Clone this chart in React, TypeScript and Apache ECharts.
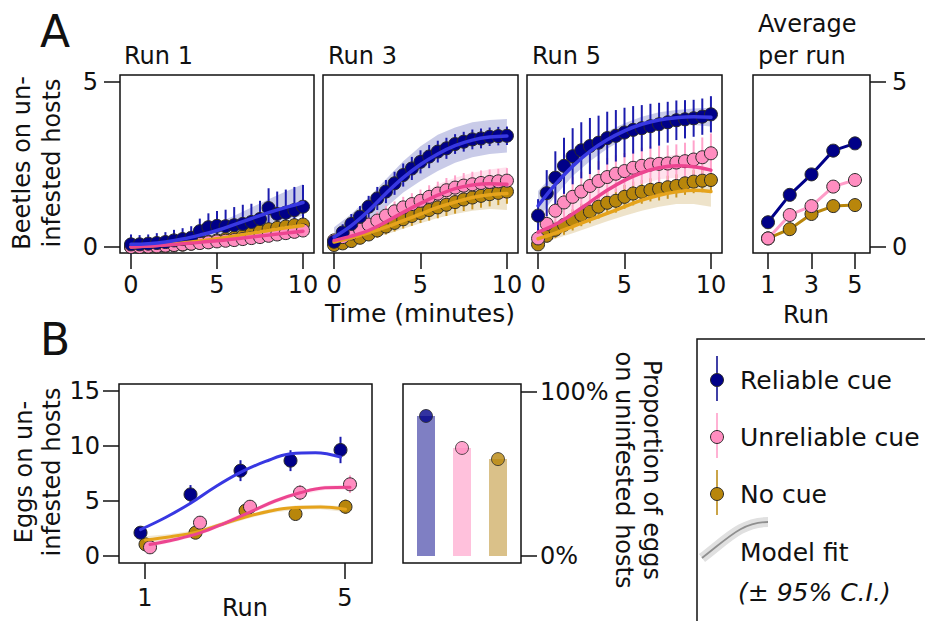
import React, { useEffect, useRef } from "react";
import * as echarts from "echarts";

// ---------- Panel A: beetles on uninfested hosts over time ----------
const timePoints = [0, 0.5, 1, 1.5, 2, 2.5, 3, 3.5, 4, 4.5, 5, 5.5, 6, 6.5, 7, 7.5, 8, 8.5, 9, 9.5, 10];
const fitTimes = [0, 1, 2, 3, 4, 5, 6, 7, 8, 9, 10];
const timeTicks = [0, 5, 10];
const beetleTicks = [0, 5];

// Run 1
const run1Reliable = [0.08, 0.08, 0.1, 0.12, 0.15, 0.2, 0.24, 0.28, 0.48, 0.6, 0.64, 0.63, 0.66, 0.7, 0.76, 0.85, 1.18, 1.0, 1.04, 1.12, 1.22];
const run1ReliableErr = [0.3, 0.28, 0.28, 0.3, 0.3, 0.32, 0.33, 0.35, 0.38, 0.42, 0.45, 0.5, 0.55, 0.58, 0.55, 0.55, 0.6, 0.68, 0.7, 0.7, 0.66];
const run1Unreliable = [0, 0, 0.01, 0.02, 0.04, 0.06, 0.08, 0.1, 0.12, 0.14, 0.17, 0.19, 0.21, 0.24, 0.27, 0.3, 0.34, 0.38, 0.42, 0.46, 0.5];
const run1UnreliableErr = [0.04, 0.04, 0.05, 0.05, 0.06, 0.07, 0.08, 0.08, 0.09, 0.1, 0.1, 0.11, 0.11, 0.12, 0.12, 0.13, 0.13, 0.14, 0.14, 0.15, 0.15];
const run1NoCue = [0, 0, 0, 0.01, 0.03, 0.05, 0.07, 0.1, 0.13, 0.16, 0.2, 0.24, 0.28, 0.33, 0.42, 0.48, 0.54, 0.58, 0.62, 0.66, 0.68];
const run1NoCueErr = [0.04, 0.04, 0.05, 0.06, 0.07, 0.08, 0.09, 0.1, 0.1, 0.11, 0.12, 0.12, 0.13, 0.14, 0.14, 0.15, 0.15, 0.16, 0.16, 0.17, 0.17];
const run1ReliableFit = [0.08, 0.1, 0.15, 0.24, 0.36, 0.5, 0.68, 0.86, 1.04, 1.2, 1.35];
const run1ReliableLo = [0.02, 0.04, 0.07, 0.12, 0.2, 0.3, 0.42, 0.55, 0.68, 0.82, 0.95];
const run1ReliableHi = [0.15, 0.18, 0.25, 0.36, 0.52, 0.72, 0.95, 1.2, 1.45, 1.68, 1.9];
const run1UnreliableFit = [0, 0.03, 0.06, 0.1, 0.14, 0.19, 0.24, 0.3, 0.36, 0.42, 0.48];
const run1UnreliableLo = [-0.03, 0, 0.02, 0.05, 0.08, 0.12, 0.16, 0.2, 0.25, 0.3, 0.34];
const run1UnreliableHi = [0.03, 0.06, 0.1, 0.15, 0.2, 0.26, 0.32, 0.4, 0.47, 0.54, 0.62];
const run1NoCueFit = [0, 0.03, 0.07, 0.12, 0.18, 0.25, 0.33, 0.42, 0.5, 0.58, 0.65];
const run1NoCueLo = [-0.03, 0, 0.03, 0.07, 0.12, 0.17, 0.23, 0.3, 0.36, 0.42, 0.47];
const run1NoCueHi = [0.03, 0.06, 0.11, 0.17, 0.24, 0.33, 0.43, 0.54, 0.64, 0.74, 0.83];

// Run 3
const run3Reliable = [0.16, 0.44, 0.7, 0.92, 1.22, 1.47, 1.68, 1.93, 2.18, 2.38, 2.58, 2.74, 2.89, 2.99, 3.12, 3.19, 3.26, 3.29, 3.34, 3.36, 3.37];
const run3ReliableErr = [0.2, 0.25, 0.3, 0.32, 0.33, 0.35, 0.35, 0.35, 0.35, 0.35, 0.35, 0.35, 0.33, 0.32, 0.3, 0.3, 0.3, 0.3, 0.28, 0.28, 0.28];
const run3Unreliable = [0.2, 0.3, 0.41, 0.53, 0.68, 0.8, 0.95, 1.08, 1.2, 1.3, 1.4, 1.52, 1.62, 1.72, 1.8, 1.86, 1.9, 1.94, 1.97, 1.99, 2.01];
const run3UnreliableErr = [0.1, 0.15, 0.2, 0.22, 0.25, 0.27, 0.3, 0.3, 0.32, 0.33, 0.34, 0.35, 0.36, 0.37, 0.37, 0.38, 0.38, 0.38, 0.38, 0.38, 0.38];
const run3NoCue = [0.06, 0.11, 0.18, 0.28, 0.38, 0.5, 0.62, 0.73, 0.84, 0.94, 1.03, 1.12, 1.2, 1.28, 1.36, 1.44, 1.5, 1.55, 1.6, 1.64, 1.68];
const run3NoCueErr = [0.1, 0.12, 0.15, 0.18, 0.2, 0.22, 0.24, 0.26, 0.28, 0.3, 0.3, 0.32, 0.33, 0.34, 0.35, 0.35, 0.36, 0.36, 0.37, 0.37, 0.37];
const run3ReliableFit = [0.3, 0.65, 1.1, 1.62, 2.1, 2.5, 2.82, 3.07, 3.24, 3.33, 3.36];
const run3ReliableLo = [0.05, 0.35, 0.75, 1.2, 1.65, 2.0, 2.3, 2.55, 2.72, 2.82, 2.86];
const run3ReliableHi = [0.6, 1.0, 1.5, 2.05, 2.6, 3.05, 3.4, 3.62, 3.78, 3.85, 3.88];
const run3UnreliableFit = [0.2, 0.33, 0.5, 0.76, 1.05, 1.32, 1.57, 1.77, 1.88, 1.92, 1.9];
const run3UnreliableLo = [0.1, 0.22, 0.35, 0.55, 0.8, 1.05, 1.25, 1.42, 1.5, 1.52, 1.45];
const run3UnreliableHi = [0.3, 0.45, 0.65, 0.95, 1.3, 1.6, 1.9, 2.1, 2.25, 2.35, 2.42];
const run3NoCueFit = [0.15, 0.28, 0.43, 0.6, 0.8, 1.0, 1.2, 1.36, 1.5, 1.58, 1.62];
const run3NoCueLo = [0.05, 0.15, 0.25, 0.38, 0.55, 0.72, 0.88, 1.0, 1.1, 1.15, 1.12];
const run3NoCueHi = [0.25, 0.4, 0.6, 0.82, 1.05, 1.3, 1.5, 1.68, 1.82, 1.9, 1.95];

// Run 5
const run5Reliable = [0.95, 1.63, 2.1, 2.46, 2.75, 2.93, 3.06, 3.16, 3.3, 3.37, 3.47, 3.55, 3.6, 3.66, 3.72, 3.78, 3.84, 3.87, 3.9, 3.95, 4.02];
const run5ReliableErr = [0.5, 0.7, 0.8, 0.85, 0.85, 0.85, 0.85, 0.82, 0.8, 0.78, 0.75, 0.72, 0.7, 0.68, 0.65, 0.62, 0.6, 0.58, 0.56, 0.55, 0.55];
const run5Unreliable = [0.26, 0.7, 1.1, 1.35, 1.52, 1.68, 1.85, 2.0, 2.12, 2.22, 2.3, 2.4, 2.46, 2.5, 2.52, 2.53, 2.56, 2.6, 2.65, 2.72, 2.84];
const run5UnreliableErr = [0.3, 0.45, 0.55, 0.6, 0.6, 0.6, 0.6, 0.6, 0.58, 0.56, 0.55, 0.55, 0.55, 0.55, 0.55, 0.55, 0.55, 0.56, 0.58, 0.6, 0.6];
const run5NoCue = [0.08, 0.34, 0.52, 0.67, 0.82, 0.97, 1.07, 1.22, 1.34, 1.4, 1.52, 1.62, 1.67, 1.73, 1.76, 1.81, 1.85, 1.93, 1.98, 2.01, 2.03];
const run5NoCueErr = [0.1, 0.2, 0.25, 0.3, 0.32, 0.34, 0.35, 0.36, 0.36, 0.36, 0.36, 0.36, 0.36, 0.35, 0.35, 0.35, 0.35, 0.35, 0.35, 0.35, 0.35];
const run5ReliableFit = [1.25, 1.9, 2.45, 2.9, 3.25, 3.52, 3.72, 3.85, 3.92, 3.95, 3.93];
const run5ReliableLo = [0.85, 1.55, 2.15, 2.6, 2.98, 3.28, 3.48, 3.6, 3.68, 3.7, 3.65];
const run5ReliableHi = [1.7, 2.25, 2.75, 3.15, 3.5, 3.75, 3.95, 4.08, 4.15, 4.2, 4.22];
const run5UnreliableFit = [0.45, 0.68, 1.0, 1.36, 1.72, 2.02, 2.25, 2.4, 2.46, 2.43, 2.33];
const run5UnreliableLo = [0.2, 0.42, 0.72, 1.05, 1.4, 1.68, 1.9, 2.05, 2.1, 2.06, 1.9];
const run5UnreliableHi = [0.7, 0.95, 1.3, 1.68, 2.05, 2.36, 2.58, 2.72, 2.8, 2.8, 2.75];
const run5NoCueFit = [0.25, 0.42, 0.62, 0.82, 1.02, 1.22, 1.42, 1.57, 1.67, 1.72, 1.68];
const run5NoCueLo = [0.1, 0.25, 0.42, 0.6, 0.78, 0.95, 1.1, 1.22, 1.3, 1.3, 1.22];
const run5NoCueHi = [0.4, 0.6, 0.82, 1.05, 1.28, 1.5, 1.7, 1.85, 1.95, 2.0, 2.0];

// Average per run
const avgRuns = [1, 2, 3, 4, 5];
const avgTicks = [1, 3, 5];
const avgReliable = [0.75, 1.58, 2.2, 2.92, 3.14];
const avgUnreliable = [0.26, 0.97, 1.24, 1.83, 2.03];
const avgNoCue = [0.26, 0.54, 1.0, 1.24, 1.27];

// ---------- Panel B: eggs ----------
const eggRuns = [1, 2, 3, 4, 5];
const eggXTicks = [1, 5];
const eggYTicks = [0, 5, 10, 15];
const eggReliable = [2.12, 5.6, 7.76, 8.67, 9.64];
const eggReliableErr = [0.35, 0.85, 0.95, 0.95, 1.2];
const eggUnreliable = [0.79, 3.03, 4.48, 5.76, 6.52];
const eggUnreliableErr = [0.25, 0.6, 0.6, 0.7, 0.8];
const eggNoCue = [1.06, 2.12, 4.12, 3.82, 4.48];
const eggNoCueErr = [0.2, 0.4, 0.5, 0.5, 0.65];
const eggFitRuns = [1, 1.5, 2, 2.5, 3, 3.5, 4, 4.5, 5];
const eggReliableFit = [2.4, 3.5, 4.8, 6.3, 7.6, 8.6, 9.3, 9.4, 9.0];
const eggUnreliableFit = [1.05, 1.5, 2.1, 3.0, 4.0, 5.0, 5.75, 6.2, 6.25];
const eggUnreliableLo = [0.8, 1.3, 1.9, 2.8, 3.8, 4.8, 5.55, 6.0, 6.0];
const eggUnreliableHi = [1.3, 1.7, 2.3, 3.2, 4.2, 5.2, 5.95, 6.4, 6.5];
const eggNoCueFit = [1.45, 1.75, 2.15, 2.85, 3.55, 4.1, 4.4, 4.45, 4.25];
const eggNoCueLo = [1.1, 1.5, 1.95, 2.65, 3.35, 3.9, 4.2, 4.25, 4.0];
const eggNoCueHi = [1.8, 2.0, 2.35, 3.05, 3.75, 4.3, 4.6, 4.65, 4.5];

// Proportion of eggs on uninfested hosts (%)
const propPositions = [1, 2, 3];
const propValues = [85.4, 65.9, 59.1];
const propTicks = [0, 100];

// ---------- styling ----------
const FONT = '"DejaVu Sans", Verdana, sans-serif';
const INK = "#111111";
const COL = {
  rel: { dot: "#000088", err: "#1c1cae", fit: "#3838e2", band: "rgba(45,55,165,0.26)", bar: "#7f7fc3" },
  unr: { dot: "#ff8dc0", err: "#ffa3cb", fit: "#ec4590", band: "rgba(255,135,180,0.24)", bar: "#ffc1dc" },
  no: { dot: "#b8860b", err: "#c99524", fit: "#e5a31c", band: "rgba(195,155,65,0.28)", bar: "#dac189" },
};

function gridBox(left: number, top: number, width: number, height: number) {
  return {
    left, top, width, height, show: true, borderColor: INK, borderWidth: 1.5,
    backgroundColor: "transparent", containLabel: false, outerBoundsMode: "none",
  };
}

function valAxis(gridIndex: number, min: number, max: number, ticks: number[] | null, extra: any = {}, labelExtra: any = {}) {
  return {
    type: "value", gridIndex, min, max,
    axisLine: { show: false, onZero: false },
    axisTick: ticks
      ? { show: true, length: 16, customValues: ticks, lineStyle: { color: INK, width: 1.5 } }
      : { show: false },
    axisLabel: ticks
      ? { show: true, customValues: ticks, margin: 20, fontFamily: FONT, fontSize: 24, color: INK, ...labelExtra }
      : { show: false },
    splitLine: { show: false },
    ...extra,
  };
}

function bandSeries(ax: number, xs: number[], lo: number[], hi: number[], color: string, off = 0) {
  return {
    type: "custom", xAxisIndex: ax, yAxisIndex: ax, silent: true,
    data: [[xs[0] + off, lo[0]]],
    encode: { x: 0, y: 1 },
    renderItem: (_p: any, api: any) => {
      const pts: number[][] = [];
      for (let i = 0; i < xs.length; i++) pts.push(api.coord([xs[i] + off, hi[i]]));
      for (let i = xs.length - 1; i >= 0; i--) pts.push(api.coord([xs[i] + off, lo[i]]));
      return { type: "polygon", shape: { points: pts }, style: { fill: color } };
    },
  };
}

function errSeries(ax: number, xs: number[], ys: number[], es: number[], color: string, width: number, off = 0) {
  return {
    type: "custom", xAxisIndex: ax, yAxisIndex: ax, silent: true,
    data: xs.map((x, i) => [x + off, ys[i], es[i]]),
    encode: { x: 0, y: 1 },
    renderItem: (_p: any, api: any) => {
      const x = api.value(0), y = api.value(1), e = api.value(2);
      const a = api.coord([x, y - e]);
      const b = api.coord([x, y + e]);
      return { type: "line", shape: { x1: a[0], y1: a[1], x2: b[0], y2: b[1] }, style: { stroke: color, lineWidth: width } };
    },
  };
}

function dotSeries(ax: number, xs: number[], ys: number[], color: string, size: number, off = 0) {
  return {
    type: "scatter", xAxisIndex: ax, yAxisIndex: ax, silent: true,
    symbol: "circle", symbolSize: size,
    itemStyle: { color, borderColor: "#2a2a2a", borderWidth: 1, opacity: 1 },
    data: xs.map((x, i) => [x + off, ys[i]]),
  };
}

function fitSeries(ax: number, xs: number[], ys: number[], color: string, width: number, off = 0) {
  return {
    type: "line", xAxisIndex: ax, yAxisIndex: ax, silent: true,
    smooth: 0.4, showSymbol: false, symbol: "none",
    lineStyle: { color, width, cap: "round" },
    data: xs.map((x, i) => [x + off, ys[i]]),
  };
}

function avgSeries(ax: number, ys: number[], c: any) {
  return {
    type: "line", xAxisIndex: ax, yAxisIndex: ax, silent: true,
    symbol: "circle", symbolSize: 13, showSymbol: true,
    lineStyle: { color: c.line, width: 3 },
    itemStyle: { color: c.dot, borderColor: "#2a2a2a", borderWidth: 1 },
    data: avgRuns.map((x, i) => [x, ys[i]]),
  };
}

type Group = { dots: number[]; err: number[]; fit: number[]; lo: number[]; hi: number[]; col: any };

function timePanel(ax: number, groups: Group[]) {
  const s: any[] = [];
  groups.forEach((g) => s.push(bandSeries(ax, fitTimes, g.lo, g.hi, g.col.band)));
  groups.forEach((g) => s.push(errSeries(ax, timePoints, g.dots, g.err, g.col.err, 2)));
  groups.forEach((g) => s.push(dotSeries(ax, timePoints, g.dots, g.col.dot, 13)));
  groups.forEach((g) => s.push(fitSeries(ax, fitTimes, g.fit, g.col.fit, 3.5)));
  return s;
}

function txt(x: number, y: number, text: string, size: number, align = "left", extra: any = {}, style: any = {}) {
  return {
    type: "text", x, y, silent: true, ...extra,
    style: {
      text, fill: INK, font: `${style.fontStyle || ""} ${size}px ${FONT}`.trim(),
      align, verticalAlign: "middle", textAlign: align, textVerticalAlign: "middle",
      ...style,
    },
  };
}

function buildOption() {
  const series: any[] = [];
  series.push(...timePanel(0, [
    { dots: run1NoCue, err: run1NoCueErr, fit: run1NoCueFit, lo: run1NoCueLo, hi: run1NoCueHi, col: COL.no },
    { dots: run1Unreliable, err: run1UnreliableErr, fit: run1UnreliableFit, lo: run1UnreliableLo, hi: run1UnreliableHi, col: COL.unr },
    { dots: run1Reliable, err: run1ReliableErr, fit: run1ReliableFit, lo: run1ReliableLo, hi: run1ReliableHi, col: COL.rel },
  ]));
  series.push(...timePanel(1, [
    { dots: run3NoCue, err: run3NoCueErr, fit: run3NoCueFit, lo: run3NoCueLo, hi: run3NoCueHi, col: COL.no },
    { dots: run3Unreliable, err: run3UnreliableErr, fit: run3UnreliableFit, lo: run3UnreliableLo, hi: run3UnreliableHi, col: COL.unr },
    { dots: run3Reliable, err: run3ReliableErr, fit: run3ReliableFit, lo: run3ReliableLo, hi: run3ReliableHi, col: COL.rel },
  ]));
  series.push(...timePanel(2, [
    { dots: run5NoCue, err: run5NoCueErr, fit: run5NoCueFit, lo: run5NoCueLo, hi: run5NoCueHi, col: COL.no },
    { dots: run5Unreliable, err: run5UnreliableErr, fit: run5UnreliableFit, lo: run5UnreliableLo, hi: run5UnreliableHi, col: COL.unr },
    { dots: run5Reliable, err: run5ReliableErr, fit: run5ReliableFit, lo: run5ReliableLo, hi: run5ReliableHi, col: COL.rel },
  ]));

  // average per run
  series.push(avgSeries(3, avgNoCue, { line: "#b8860b", dot: "#b8860b" }));
  series.push(avgSeries(3, avgUnreliable, { line: "#ff9cc8", dot: "#ff8dc0" }));
  series.push(avgSeries(3, avgReliable, { line: "#000088", dot: "#000088" }));

  // eggs panel (groups dodged horizontally)
  const offRel = -0.09, offNo = 0.01, offUnr = 0.1;
  series.push(bandSeries(4, eggFitRuns, eggNoCueLo, eggNoCueHi, "rgba(195,155,65,0.22)", offNo));
  series.push(bandSeries(4, eggFitRuns, eggUnreliableLo, eggUnreliableHi, "rgba(255,135,180,0.2)", offUnr));
  series.push(fitSeries(4, eggFitRuns, eggNoCueFit, COL.no.fit, 3, offNo));
  series.push(fitSeries(4, eggFitRuns, eggUnreliableFit, COL.unr.fit, 3, offUnr));
  series.push(fitSeries(4, eggFitRuns, eggReliableFit, COL.rel.fit, 3, offRel));
  series.push(errSeries(4, eggRuns, eggNoCue, eggNoCueErr, COL.no.err, 2, offNo));
  series.push(errSeries(4, eggRuns, eggUnreliable, eggUnreliableErr, COL.unr.err, 2, offUnr));
  series.push(errSeries(4, eggRuns, eggReliable, eggReliableErr, COL.rel.err, 2, offRel));
  series.push(dotSeries(4, eggRuns, eggNoCue, COL.no.dot, 13, offNo));
  series.push(dotSeries(4, eggRuns, eggUnreliable, COL.unr.dot, 13, offUnr));
  series.push(dotSeries(4, eggRuns, eggReliable, COL.rel.dot, 13, offRel));

  // proportion bars
  const barCols = [COL.rel.bar, COL.unr.bar, COL.no.bar];
  const dotCols = [COL.rel.dot, COL.unr.dot, COL.no.dot];
  series.push({
    type: "bar", xAxisIndex: 5, yAxisIndex: 5, silent: true, barWidth: 18,
    data: propValues.map((v, i) => ({ value: [propPositions[i], v], itemStyle: { color: barCols[i] } })),
  });
  series.push({
    type: "scatter", xAxisIndex: 5, yAxisIndex: 5, silent: true, symbolSize: 13,
    data: propValues.map((v, i) => ({ value: [propPositions[i], v], itemStyle: { color: dotCols[i], borderColor: "#2a2a2a", borderWidth: 1 } })),
  });

  const graphic: any[] = [
    txt(40, 31, "A", 44),
    txt(40, 339, "B", 44),
    txt(124, 55.5, "Run 1", 24),
    txt(328, 55.5, "Run 3", 24),
    txt(532, 55.5, "Run 5", 24),
    txt(758, 23.5, "Average", 24),
    txt(758, 56, "per run", 24),
    txt(420, 313, "Time (minutes)", 25, "center"),
    txt(806, 315, "Run", 24, "center"),
    txt(245, 608, "Run", 24, "center"),
    txt(37, 163, "Beetles on un-\ninfested hosts", 24, "center", { rotation: Math.PI / 2 }, { lineHeight: 30 }),
    txt(38, 472, "Eggs on un-\ninfested hosts", 24, "center", { rotation: Math.PI / 2 }, { lineHeight: 28 }),
    txt(638, 470, "Proportion of eggs\non uninfested hosts", 24, "center", { rotation: -Math.PI / 2 }, { lineHeight: 28 }),
    // legend box
    { type: "rect", silent: true, shape: { x: 697, y: 339, width: 260, height: 300 }, style: { fill: "none", stroke: INK, lineWidth: 1.5 } },
  ];
  const legendRows = [
    { y: 380, label: "Reliable cue", line: "#000088", dot: COL.rel.dot },
    { y: 437, label: "Unreliable cue", line: "#ff99c6", dot: COL.unr.dot },
    { y: 494, label: "No cue", line: "#b8860b", dot: COL.no.dot },
  ];
  legendRows.forEach((r) => {
    graphic.push({ type: "line", silent: true, shape: { x1: 717, y1: r.y - 24, x2: 717, y2: r.y + 21 }, style: { stroke: r.line, lineWidth: 1.5 } });
    graphic.push({ type: "circle", silent: true, shape: { cx: 717, cy: r.y, r: 6.5 }, style: { fill: r.dot, stroke: "#2a2a2a", lineWidth: 1 } });
    graphic.push(txt(740, r.y, r.label, 25));
  });
  graphic.push({ type: "bezierCurve", silent: true, shape: { x1: 702, y1: 558, x2: 768, y2: 522, cpx1: 728, cpy1: 538, cpx2: 742, cpy2: 522 }, style: { stroke: "#e0e0e0", lineWidth: 10, fill: "none" } });
  graphic.push({ type: "bezierCurve", silent: true, shape: { x1: 702, y1: 558, x2: 768, y2: 522, cpx1: 728, cpy1: 538, cpx2: 742, cpy2: 522 }, style: { stroke: "#8f8f8f", lineWidth: 1.8, fill: "none" } });
  graphic.push(txt(740, 552, "Model fit", 25));
  graphic.push(txt(738, 592, "(± 95% C.I.)", 25, "left", {}, { fontStyle: "italic" }));

  return {
    animation: false,
    backgroundColor: "#ffffff",
    grid: [
      gridBox(120, 75, 194, 178),
      gridBox(323, 75, 195, 178),
      gridBox(527, 75, 195, 178),
      gridBox(753, 75, 117, 178),
      gridBox(119, 384, 253, 179),
      gridBox(403, 384, 118, 179),
    ],
    xAxis: [
      valAxis(0, -0.64, 10.64, timeTicks),
      valAxis(1, -0.64, 10.64, timeTicks),
      valAxis(2, -0.64, 10.64, timeTicks),
      valAxis(3, 0.31, 5.69, avgTicks),
      valAxis(4, 0.48, 5.54, eggXTicks, {}, { margin: 23 }),
      valAxis(5, 0.361, 3.639, null),
    ],
    yAxis: [
      valAxis(0, -0.182, 5.212, beetleTicks, {}, { margin: 22 }),
      valAxis(1, -0.182, 5.212, null),
      valAxis(2, -0.182, 5.212, null),
      valAxis(3, -0.182, 5.212, beetleTicks, { position: "right" }, { margin: 22 }),
      valAxis(4, -0.636, 15.64, eggYTicks, {}, { margin: 19 }),
      valAxis(5, -4.27, 104.9, propTicks, { position: "right" }, { margin: 19, formatter: "{value}%" }),
    ],
    series,
    graphic,
  };
}

export default function App() {
  const ref = useRef<HTMLDivElement>(null);
  useEffect(() => {
    if (!ref.current) return;
    const chart = echarts.init(ref.current, undefined, { renderer: "svg" });
    chart.setOption(buildOption() as any);
    return () => chart.dispose();
  }, []);
  return <div ref={ref} style={{ position: "absolute", left: 0, top: 0, width: 925, height: 621 }} />;
}
